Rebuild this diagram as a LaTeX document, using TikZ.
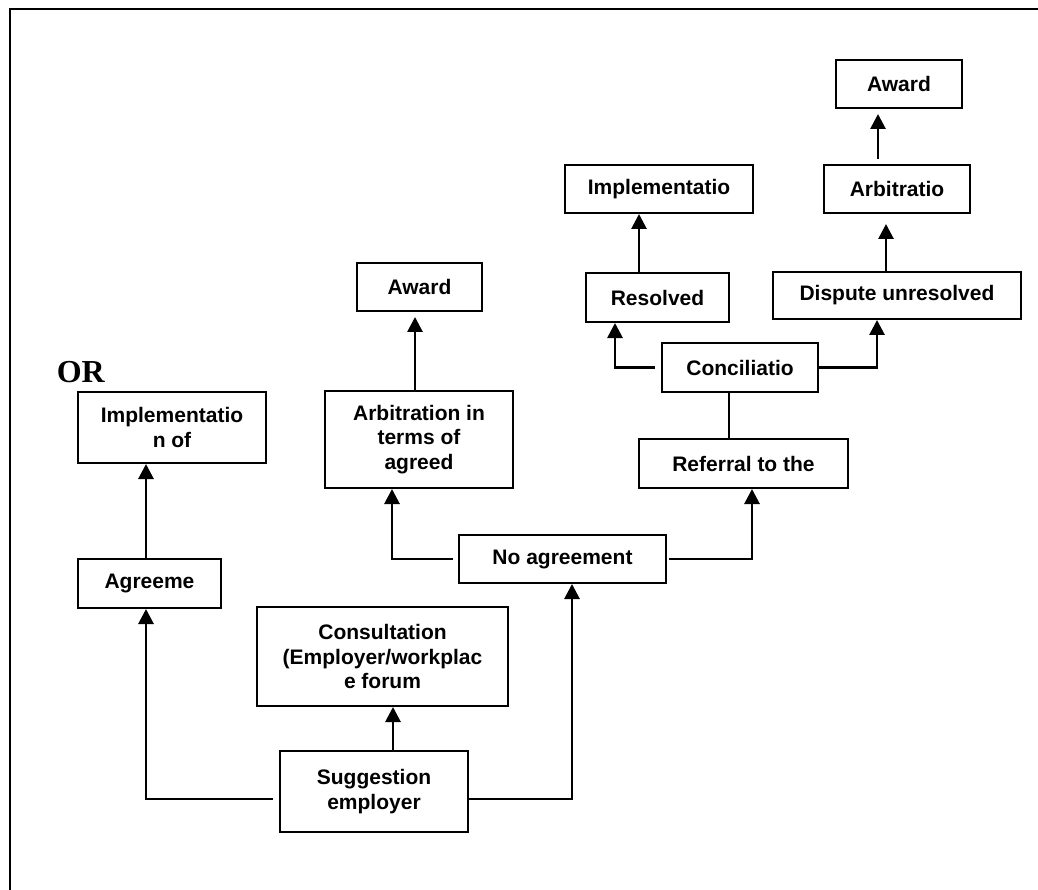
\documentclass[tikz,border=0pt]{standalone}
\usepackage{fontspec}
\setsansfont{Liberation Sans}
\newfontfamily\serifbold{Liberation Serif}
\usetikzlibrary{arrows.meta}

\begin{document}
\begin{tikzpicture}[x=1pt,y=-1pt,
  stepbox/.style={draw, line width=2pt, inner sep=0pt, align=center,
    font=\sffamily\bfseries\fontsize{21}{24.5}\selectfont},
  arr/.style={line width=2.8pt, -{Triangle[width=15pt,length=15pt]}},
  plain/.style={line width=2.4pt}]
\useasboundingbox (0,0) rectangle (1038,890);

% outer frame (top and left edges only)
\draw[line width=2.4pt] (10,890) -- (10,9) -- (1038,9);

% boxes
\node[stepbox, minimum width=126pt, minimum height=48pt] (awardR)   at (899,84)     {Award};
\node[stepbox, minimum width=146pt, minimum height=48pt] (arbR)     at (897,189)    {Arbitratio};
\node[stepbox, minimum width=188pt, minimum height=48pt] (implR)    at (659,189)    {Implementatio};
\node[stepbox, minimum width=143pt, minimum height=49pt] (resolved) at (657.5,297.5){Resolved};
\node[stepbox, minimum width=248pt, minimum height=47pt] (dispute)  at (897,295.5)  {Dispute unresolved};
\node[stepbox, minimum width=156pt, minimum height=49pt] (concil)   at (740,367.5)  {Conciliatio};
\node[stepbox, minimum width=209pt, minimum height=49pt] (referral) at (743.5,463.5){Referral to the};
\node[stepbox, minimum width=125pt, minimum height=48pt] (awardM)   at (419.5,287)  {Award};
\node[stepbox, minimum width=188pt, minimum height=97pt] (arbM)     at (419,439.5)  {Arbitration in\\terms of\\agreed};
\node[stepbox, minimum width=207pt, minimum height=48pt] (noagree)  at (562.5,559)  {No agreement};
\node[stepbox, minimum width=188pt, minimum height=71pt] (implL)    at (172,427.5)  {Implementatio\\n of};
\node[stepbox, minimum width=143pt, minimum height=49pt] (agreeme)  at (149.5,583.5){Agreeme};
\node[stepbox, minimum width=251pt, minimum height=99pt] (consult)  at (382.5,656.5){Consultation\\(Employer/workplac\\e forum};
\node[stepbox, minimum width=188pt, minimum height=81pt] (suggest)  at (374,791.5)  {Suggestion\\employer};

% heading
\node[anchor=base east, inner sep=0pt, font=\serifbold\bfseries\fontsize{32}{36}\selectfont] (ortext) at (105,382) {OR};

% connectors
\draw[arr] ([xshift=19pt]suggest.north) -- ([xshift=19pt]suggest.north |- consult.south);
\draw[arr] ([xshift=-6pt,yshift=-7.5pt]suggest.west) -| ([xshift=-3.5pt]agreeme.south);
\draw[arr] ([yshift=-7.5pt]suggest.east) -| ([xshift=9.5pt]noagree.south);
\draw[arr] ([xshift=-3.5pt]agreeme.north) -- ([xshift=-3.5pt]agreeme.north |- implL.south);
\draw[arr] ([xshift=-5pt]noagree.west) -| ([xshift=-27pt]arbM.south);
\draw[arr] ([xshift=2pt]noagree.east) -| ([xshift=8.5pt]referral.south);
\draw[arr, shorten >=5pt] ([xshift=-4pt]arbM.north) -- ([xshift=-4pt]arbM.north |- awardM.south);
\draw[plain] ([xshift=-11pt]concil.south) -- ([xshift=-11pt]concil.south |- referral.north);
\draw[arr] ([xshift=-6pt]concil.west) -| ([xshift=-42.5pt]resolved.south);
\draw[arr] (concil.east) -| ([xshift=-20pt]dispute.south);
\draw[arr] ([xshift=-18.5pt]resolved.north) -- ([xshift=-18.5pt]resolved.north |- implR.south);
\draw[arr, shorten >=10pt] ([xshift=-11pt]dispute.north) -- ([xshift=-11pt]dispute.north |- arbR.south);
\draw[arr, shorten >=5pt, shorten <=5pt] ([xshift=-19pt]arbR.north) -- ([xshift=-19pt]arbR.north |- awardR.south);
\end{tikzpicture}
\end{document}
